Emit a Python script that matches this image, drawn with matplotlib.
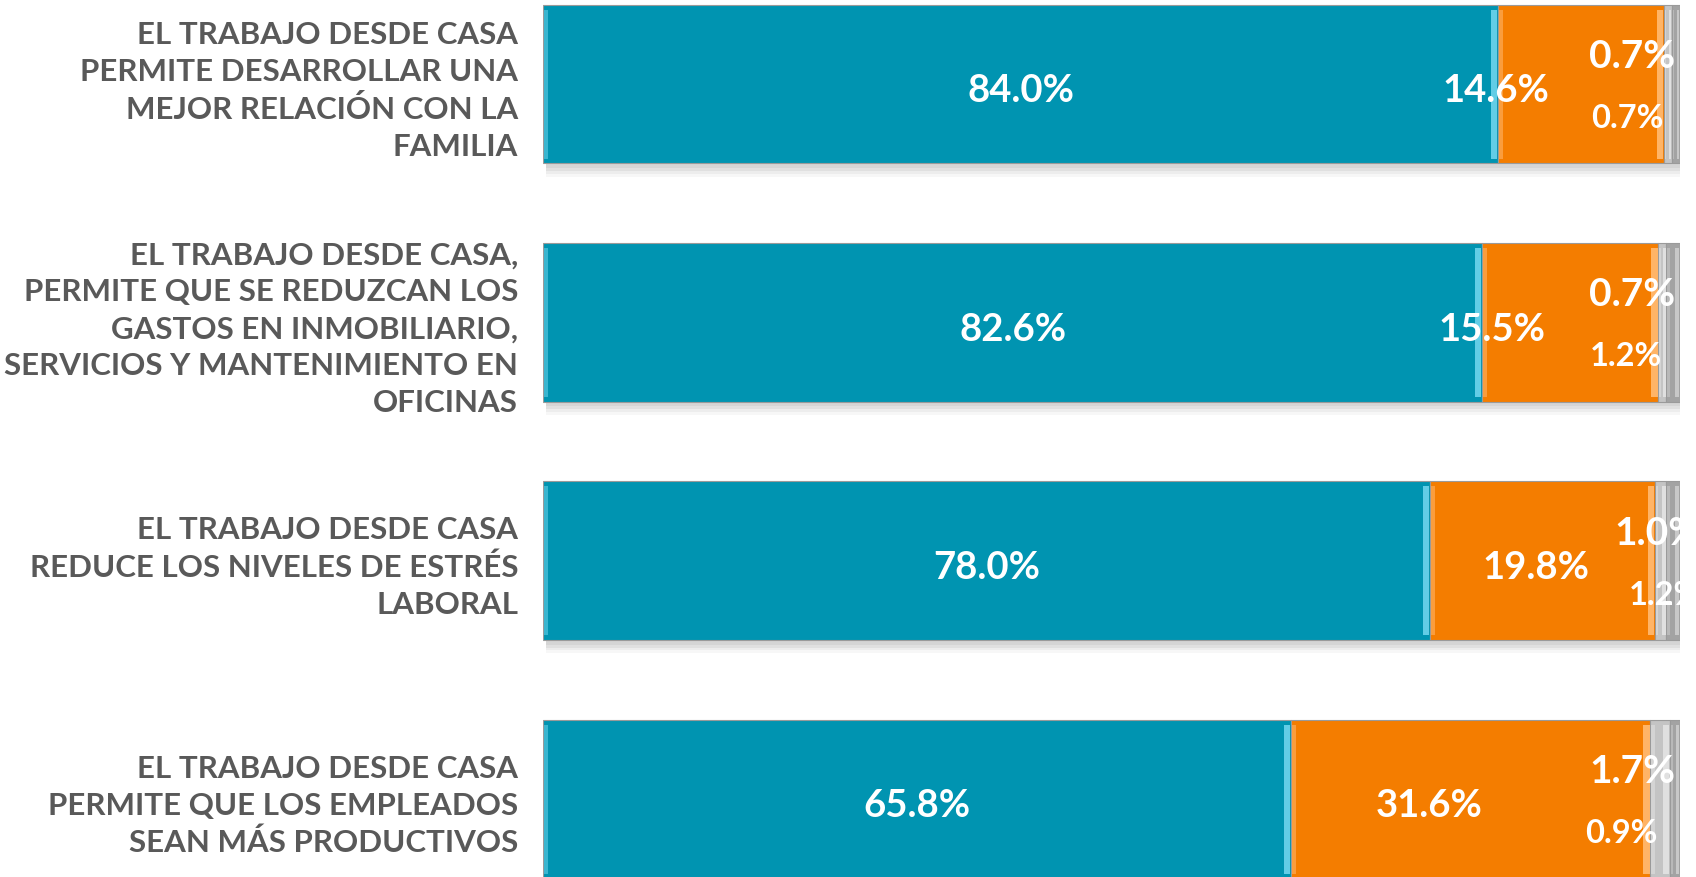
import matplotlib
matplotlib.use("Agg")
import matplotlib.pyplot as plt
import numpy as np

categories = [
    "EL TRABAJO DESDE CASA\nPERMITE DESARROLLAR UNA\nMEJOR RELACIÓN CON LA\nFAMILIA",
    "EL TRABAJO DESDE CASA,\nPERMITE QUE SE REDUZCAN LOS\nGASTOS EN INMOBILIARIO,\nSERVICIOS Y MANTENIMIENTO EN\nOFICINAS",
    "EL TRABAJO DESDE CASA\nREDUCE LOS NIVELES DE ESTRÉS\nLABORAL",
    "EL TRABAJO DESDE CASA\nPERMITE QUE LOS EMPLEADOS\nSEAN MÁS PRODUCTIVOS",
]
serie1 = [84.0, 82.6, 78.0, 65.8]
serie2 = [14.6, 15.5, 19.8, 31.6]
serie3 = [0.7, 0.7, 1.0, 1.7]
serie4 = [0.7, 1.2, 1.2, 0.9]

# layout / style
colors = ["#0094b1", "#f47d00", "#c4c4c4", "#a3a3a3"]
highlights = ["#62cde6", "#ffb466", "#e0e0e0", "#c8c8c8"]
orange_nudge = [-7.5, -6.85, -0.6, -3.7]
top_nudge = [-3.15, -2.65, -0.3, -2.4]
bot_nudge = [-4.25, -4.2, -0.7, -4.75]

plt.rcParams['font.family'] = ['Lato', 'DejaVu Sans']

fig = plt.figure(figsize=(16.96, 8.77), dpi=100)
ax = fig.add_axes([0.3202, 0.0, 0.6704, 1.0])

y = np.arange(len(categories))
h = 0.665
series = [serie1, serie2, serie3, serie4]
left = np.zeros(len(categories))

# shadows
total = np.sum(series, axis=0)
for k, a in enumerate([0.05, 0.05, 0.04, 0.03]):
    ax.barh(y + 0.02 + k * 0.012, total + 0.15, height=h, left=0.3, color="#000000",
            alpha=a, edgecolor="none", zorder=1)

for s, c, hc in zip(series, colors, highlights):
    s = np.array(s)
    ax.barh(y, s, height=h, left=left, color=c, edgecolor="#9a9a9a", linewidth=0.8, zorder=2)
    # bevel highlights at segment edges
    w = np.minimum(0.55, s * 0.3)
    ax.barh(y, w, height=h * 0.94, left=left + s - w - 0.08, color=hc, edgecolor="none", zorder=3)
    ax.barh(y, w * 0.6, height=h * 0.94, left=left + 0.08, color=hc, edgecolor="none", zorder=3, alpha=0.6)
    left = left + s

ax.set_xlim(0, 100)
ax.set_ylim(3.327, -0.3525)
ax.set_yticks(y)
ax.set_yticklabels(categories, fontsize=22.5, fontweight="bold", color="#595959",
                   linespacing=1.38, multialignment="right")
ax.tick_params(axis="y", length=0, pad=18)
ax.set_xticks([])
for sp in ax.spines.values():
    sp.set_visible(False)

lbl = dict(color="white", fontweight="bold", va="center", ha="center", zorder=5)
for i in range(len(categories)):
    ax.text(serie1[i] / 2, y[i] + 0.03, f"{serie1[i]:.1f}%", fontsize=27.5, **lbl)
    ax.text(serie1[i] + serie2[i] / 2 + orange_nudge[i], y[i] + 0.03, f"{serie2[i]:.1f}%",
            fontsize=27.5, **lbl)
    c3 = serie1[i] + serie2[i] + serie3[i] / 2 + top_nudge[i]
    ax.text(c3, y[i] - 0.115, f"{serie3[i]:.1f}%", fontsize=28, clip_on=True, **lbl)
    c4 = serie1[i] + serie2[i] + serie3[i] + serie4[i] / 2 + bot_nudge[i]
    ax.text(c4, y[i] + 0.145, f"{serie4[i]:.1f}%", fontsize=23.5, clip_on=True, **lbl)

fig.savefig("out.png", dpi=100)
